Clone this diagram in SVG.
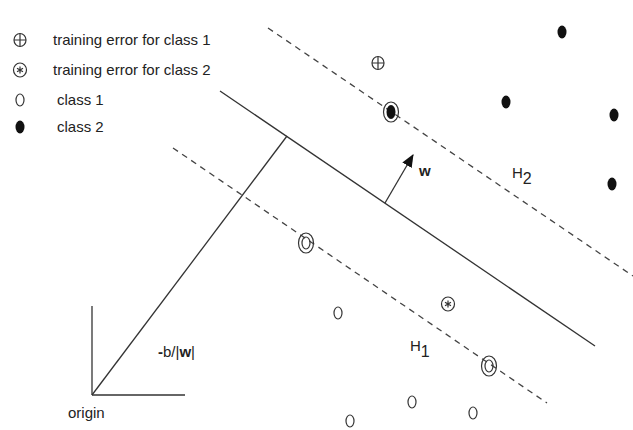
<svg xmlns="http://www.w3.org/2000/svg" width="633" height="430" viewBox="0 0 633 430">
<style>
.t{font-family:"Liberation Sans",Arial,sans-serif;font-size:15px;fill:#222}
.b{font-weight:bold}
.ln{stroke:#333;stroke-width:1.3;fill:none}
.dash{stroke:#444;stroke-width:1.3;fill:none;stroke-dasharray:6 5}
.o{fill:none;stroke:#333;stroke-width:1.2}
.f{fill:#111;stroke:none}
</style>
<defs>
<marker id="ah" viewBox="0 0 12 10" refX="11" refY="5" markerWidth="13" markerHeight="11" markerUnits="userSpaceOnUse" orient="auto">
<path d="M0,0 L12,5 L0,10 z" fill="#111"/>
</marker>
<g id="plus"><ellipse rx="6" ry="6.5" class="o"/><path d="M-6,0H6M0,-6.5V6.5" class="o"/></g>
<g id="star"><ellipse rx="6.5" ry="7" class="o"/><path d="M0,-3.5V3.5M-3,-1.8L3,1.8M-3,1.8L3,-1.8" class="o" stroke-width="1"/></g>
<ellipse id="c1" rx="4" ry="6" class="o"/>
<ellipse id="c2" rx="4.5" ry="6.5" class="f"/>
</defs>
<rect width="633" height="430" fill="#fff"/>
<g id="connectors">
<line class="ln" x1="220" y1="91" x2="595" y2="346"/>
<line class="dash" x1="268" y1="28" x2="633" y2="276"/>
<line class="dash" x1="173" y1="148" x2="547" y2="403"/>
<line class="ln" x1="92" y1="395" x2="287" y2="136"/>
<line class="ln" x1="92" y1="306" x2="92" y2="395"/>
<line class="ln" x1="92" y1="395" x2="185" y2="395"/>
<line class="ln" x1="385" y1="203" x2="413" y2="155" marker-end="url(#ah)"/>
</g>
<g id="legend">
<use href="#plus" x="20" y="40"/>
<text class="t" x="53" y="45">training error for class 1</text>
<use href="#star" x="20" y="70"/>
<text class="t" x="53" y="75">training error for class 2</text>
<use href="#c1" x="20" y="100"/>
<text class="t" x="57" y="105">class 1</text>
<use href="#c2" x="20" y="127"/>
<text class="t" x="57" y="132">class 2</text>
</g>
<g id="points">
<use href="#plus" x="378" y="63"/>
<g id="sv2"><ellipse cx="391" cy="112" rx="7.5" ry="10" class="o"/><ellipse cx="391" cy="112" rx="4.5" ry="7" class="f"/></g>
<use href="#c2" x="562" y="32"/>
<use href="#c2" x="506" y="102"/>
<use href="#c2" x="614" y="115"/>
<use href="#c2" x="612" y="184"/>
<g id="sv1a"><ellipse cx="306" cy="243" rx="7.5" ry="10" class="o"/><ellipse cx="306" cy="243" rx="4" ry="6" class="o"/></g>
<g id="sv1b"><ellipse cx="489" cy="366" rx="7.5" ry="10" class="o"/><ellipse cx="489" cy="366" rx="4" ry="6" class="o"/></g>
<use href="#c1" x="338" y="313"/>
<use href="#star" x="448" y="304"/>
<use href="#c1" x="412" y="402"/>
<use href="#c1" x="350" y="421"/>
<use href="#c1" x="473" y="413"/>
</g>
<g id="labels">
<text class="t b" x="419" y="176" font-size="16">w</text>
<text class="t" x="512" y="178" font-size="18">H<tspan font-size="16" dy="6">2</tspan></text>
<text class="t" x="410" y="351" font-size="18">H<tspan font-size="16" dy="6">1</tspan></text>
<text class="t" x="158" y="357" font-size="16"><tspan class="b">-</tspan>b/|<tspan class="b">w</tspan>|</text>
<text class="t" x="68" y="418">origin</text>
</g>
</svg>
